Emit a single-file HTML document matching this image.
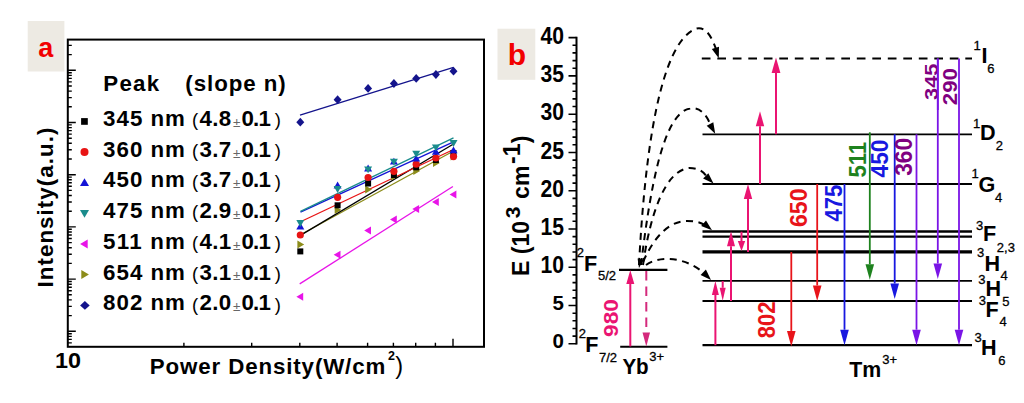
<!DOCTYPE html>
<html><head><meta charset="utf-8"><style>
html,body{margin:0;padding:0;background:#fff;}
svg{display:block;font-family:"Liberation Sans",sans-serif;}
</style></head><body>
<svg width="1024" height="403" viewBox="0 0 1024 403">
<rect width="1024" height="403" fill="#fff"/>
<rect x="27.7" y="21" width="36.7" height="50.5" fill="#edeae3"/>
<text x="45.8" y="57" font-size="27" font-weight="bold" fill="#f20000" text-anchor="middle">a</text>
<rect x="67.8" y="39.6" width="416.2" height="307.2" fill="none" stroke="#000" stroke-width="2"/>
<path d="M67.8,70.3h8 M67.8,54.6h4 M67.8,45.4h4 M67.8,122.5h8 M67.8,106.8h4 M67.8,97.6h4 M67.8,91.1h4 M67.8,86.0h4 M67.8,81.9h4 M67.8,78.4h4 M67.8,75.4h4 M67.8,72.7h4 M67.8,174.7h8 M67.8,159.0h4 M67.8,149.8h4 M67.8,143.3h4 M67.8,138.2h4 M67.8,134.1h4 M67.8,130.6h4 M67.8,127.6h4 M67.8,124.9h4 M67.8,226.9h8 M67.8,211.2h4 M67.8,202.0h4 M67.8,195.5h4 M67.8,190.4h4 M67.8,186.3h4 M67.8,182.8h4 M67.8,179.8h4 M67.8,177.1h4 M67.8,279.1h8 M67.8,263.4h4 M67.8,254.2h4 M67.8,247.7h4 M67.8,242.6h4 M67.8,238.5h4 M67.8,235.0h4 M67.8,232.0h4 M67.8,229.3h4 M67.8,331.3h8 M67.8,315.6h4 M67.8,306.4h4 M67.8,299.9h4 M67.8,294.8h4 M67.8,290.7h4 M67.8,287.2h4 M67.8,284.2h4 M67.8,281.5h4 M67.8,342.9h4 M67.8,339.4h4 M67.8,336.4h4 M67.8,333.7h4" stroke="#000" stroke-width="1.4" fill="none"/>
<path d="M183.9,346.8v-4 M251.7,346.8v-4 M299.8,346.8v-4 M337.1,346.8v-4 M367.6,346.8v-4 M393.4,346.8v-4 M415.7,346.8v-4 M435.4,346.8v-4 M453.0,346.8v-8" stroke="#000" stroke-width="1.4" fill="none"/>
<text x="55" y="368.3" font-size="21.5" font-weight="bold" textLength="26" lengthAdjust="spacingAndGlyphs">10</text>
<text x="149.8" y="373.8" font-size="22.3" font-weight="bold" textLength="235.5">Power Density(W/cm</text>
<text x="388" y="360.3" font-size="12.5" font-weight="bold">2</text>
<text x="395.3" y="373.8" font-size="23.5">)</text>
<text transform="translate(52.8,287.5) rotate(-90)" x="0" y="0" font-size="22.3" font-weight="bold" textLength="160">Intensity(a.u.)</text>
<text x="103.3" y="91" font-size="22.3" font-weight="bold" textLength="55.8">Peak</text>
<text x="185.3" y="91" font-size="22.3" font-weight="bold" textLength="100.5">(slope n)</text>
<text x="103.1" y="126.0" font-size="22.3" font-weight="bold" textLength="81.8">345 nm</text>
<text x="192.1" y="126.3" font-size="18.5">(</text>
<text x="199.6" y="126.0" font-size="22.3" font-weight="bold" textLength="31.5">4.8</text>
<text x="233.1" y="126.8" font-size="13.5" fill="#666">±</text>
<text x="241.4" y="126.0" font-size="22.3" font-weight="bold" textLength="29.6">0.1</text>
<text x="274.8" y="126.3" font-size="18.5">)</text>
<text x="103.1" y="156.7" font-size="22.3" font-weight="bold" textLength="81.8">360 nm</text>
<text x="192.1" y="157.0" font-size="18.5">(</text>
<text x="199.6" y="156.7" font-size="22.3" font-weight="bold" textLength="31.5">3.7</text>
<text x="233.1" y="157.5" font-size="13.5" fill="#666">±</text>
<text x="241.4" y="156.7" font-size="22.3" font-weight="bold" textLength="29.6">0.1</text>
<text x="274.8" y="157.0" font-size="18.5">)</text>
<text x="103.1" y="187.4" font-size="22.3" font-weight="bold" textLength="81.8">450 nm</text>
<text x="192.1" y="187.7" font-size="18.5">(</text>
<text x="199.6" y="187.4" font-size="22.3" font-weight="bold" textLength="31.5">3.7</text>
<text x="233.1" y="188.2" font-size="13.5" fill="#666">±</text>
<text x="241.4" y="187.4" font-size="22.3" font-weight="bold" textLength="29.6">0.1</text>
<text x="274.8" y="187.7" font-size="18.5">)</text>
<text x="103.1" y="218.1" font-size="22.3" font-weight="bold" textLength="81.8">475 nm</text>
<text x="192.1" y="218.4" font-size="18.5">(</text>
<text x="199.6" y="218.1" font-size="22.3" font-weight="bold" textLength="31.5">2.9</text>
<text x="233.1" y="218.9" font-size="13.5" fill="#666">±</text>
<text x="241.4" y="218.1" font-size="22.3" font-weight="bold" textLength="29.6">0.1</text>
<text x="274.8" y="218.4" font-size="18.5">)</text>
<text x="103.1" y="248.8" font-size="22.3" font-weight="bold" textLength="81.8">511 nm</text>
<text x="192.1" y="249.1" font-size="18.5">(</text>
<text x="199.6" y="248.8" font-size="22.3" font-weight="bold" textLength="31.5">4.1</text>
<text x="233.1" y="249.6" font-size="13.5" fill="#666">±</text>
<text x="241.4" y="248.8" font-size="22.3" font-weight="bold" textLength="29.6">0.1</text>
<text x="274.8" y="249.1" font-size="18.5">)</text>
<text x="103.1" y="279.5" font-size="22.3" font-weight="bold" textLength="81.8">654 nm</text>
<text x="192.1" y="279.8" font-size="18.5">(</text>
<text x="199.6" y="279.5" font-size="22.3" font-weight="bold" textLength="31.5">3.1</text>
<text x="233.1" y="280.3" font-size="13.5" fill="#666">±</text>
<text x="241.4" y="279.5" font-size="22.3" font-weight="bold" textLength="29.6">0.1</text>
<text x="274.8" y="279.8" font-size="18.5">)</text>
<text x="103.1" y="310.2" font-size="22.3" font-weight="bold" textLength="81.8">802 nm</text>
<text x="192.1" y="310.5" font-size="18.5">(</text>
<text x="199.6" y="310.2" font-size="22.3" font-weight="bold" textLength="31.5">2.0</text>
<text x="233.1" y="311.0" font-size="13.5" fill="#666">±</text>
<text x="241.4" y="310.2" font-size="22.3" font-weight="bold" textLength="29.6">0.1</text>
<text x="274.8" y="310.5" font-size="18.5">)</text>
<rect x="81.1" y="118.1" width="6.7" height="6.7" fill="#000"/>
<circle cx="84.5" cy="152.1" r="4.0" fill="#e81414"/>
<path d="M84.5,178.3L89.0,185.9L80.0,185.9Z" fill="#1414d6"/>
<path d="M84.5,217.7L89.0,210.1L80.0,210.1Z" fill="#1a8c8c"/>
<path d="M80.1,243.9L87.7,239.4L87.7,248.4Z" fill="#e814e8"/>
<path d="M88.9,274.5L81.3,270.0L81.3,279.0Z" fill="#8c8c1a"/>
<path d="M84.9,301.1L89.7,305.4L84.9,309.7L80.1,305.4Z" fill="#14148c"/>
<line x1="300" y1="235" x2="453.5" y2="151" stroke="#8c8c1a" stroke-width="1.3"/>
<line x1="300" y1="235.6" x2="453.5" y2="144" stroke="#000" stroke-width="1.3"/>
<line x1="300" y1="222" x2="453.5" y2="149.5" stroke="#e81414" stroke-width="1.3"/>
<line x1="300.5" y1="212.2" x2="453.5" y2="141.8" stroke="#1414d6" stroke-width="1.3"/>
<line x1="300.5" y1="211.3" x2="453.5" y2="137.8" stroke="#1a8c8c" stroke-width="1.3"/>
<line x1="299.7" y1="283.9" x2="452.9" y2="186.5" stroke="#e814e8" stroke-width="1.3"/>
<line x1="300" y1="115.2" x2="453.5" y2="67.3" stroke="#14148c" stroke-width="1.3"/>
<path d="M304.2,244.4L297.4,240.4L297.4,248.4Z" fill="#8c8c1a"/>
<path d="M341.5,210.0L334.7,206.0L334.7,214.0Z" fill="#8c8c1a"/>
<path d="M372.0,189.4L365.2,185.4L365.2,193.4Z" fill="#8c8c1a"/>
<path d="M397.8,176.5L391.0,172.5L391.0,180.5Z" fill="#8c8c1a"/>
<path d="M420.1,171.0L413.3,167.0L413.3,175.0Z" fill="#8c8c1a"/>
<path d="M439.8,163.0L433.0,159.0L433.0,167.0Z" fill="#8c8c1a"/>
<path d="M457.4,156.6L450.6,152.6L450.6,160.6Z" fill="#8c8c1a"/>
<rect x="297.3" y="248.4" width="6.0" height="6.0" fill="#000"/>
<rect x="334.6" y="202.3" width="6.0" height="6.0" fill="#000"/>
<rect x="365.1" y="180.5" width="6.0" height="6.0" fill="#000"/>
<rect x="390.9" y="172.0" width="6.0" height="6.0" fill="#000"/>
<rect x="413.2" y="164.3" width="6.0" height="6.0" fill="#000"/>
<rect x="432.9" y="157.0" width="6.0" height="6.0" fill="#000"/>
<rect x="450.5" y="150.0" width="6.0" height="6.0" fill="#000"/>
<circle cx="300.3" cy="235.0" r="3.6" fill="#e81414"/>
<circle cx="337.6" cy="197.3" r="3.6" fill="#e81414"/>
<circle cx="368.1" cy="177.5" r="3.6" fill="#e81414"/>
<circle cx="393.9" cy="171.3" r="3.6" fill="#e81414"/>
<circle cx="416.2" cy="164.2" r="3.6" fill="#e81414"/>
<circle cx="435.9" cy="158.0" r="3.6" fill="#e81414"/>
<circle cx="453.5" cy="156.6" r="3.6" fill="#e81414"/>
<path d="M300.3,222.6L304.3,229.4L296.3,229.4Z" fill="#1414d6"/>
<path d="M337.6,181.6L341.6,188.4L333.6,188.4Z" fill="#1414d6"/>
<path d="M368.1,164.6L372.1,171.4L364.1,171.4Z" fill="#1414d6"/>
<path d="M393.9,157.7L397.9,164.5L389.9,164.5Z" fill="#1414d6"/>
<path d="M416.2,154.7L420.2,161.5L412.2,161.5Z" fill="#1414d6"/>
<path d="M435.9,147.9L439.9,154.7L431.9,154.7Z" fill="#1414d6"/>
<path d="M453.5,146.5L457.5,153.3L449.5,153.3Z" fill="#1414d6"/>
<path d="M300.3,226.9L304.3,220.1L296.3,220.1Z" fill="#1a8c8c"/>
<path d="M337.6,192.9L341.6,186.1L333.6,186.1Z" fill="#1a8c8c"/>
<path d="M368.1,173.2L372.1,166.4L364.1,166.4Z" fill="#1a8c8c"/>
<path d="M393.9,165.5L397.9,158.7L389.9,158.7Z" fill="#1a8c8c"/>
<path d="M416.2,157.5L420.2,150.7L412.2,150.7Z" fill="#1a8c8c"/>
<path d="M435.9,151.3L439.9,144.5L431.9,144.5Z" fill="#1a8c8c"/>
<path d="M453.5,146.9L457.5,140.1L449.5,140.1Z" fill="#1a8c8c"/>
<path d="M296.4,296.8L303.2,292.8L303.2,300.8Z" fill="#e814e8"/>
<path d="M333.7,254.8L340.5,250.8L340.5,258.8Z" fill="#e814e8"/>
<path d="M364.2,230.6L371.0,226.6L371.0,234.6Z" fill="#e814e8"/>
<path d="M390.0,219.4L396.8,215.4L396.8,223.4Z" fill="#e814e8"/>
<path d="M412.3,209.0L419.1,205.0L419.1,213.0Z" fill="#e814e8"/>
<path d="M432.0,201.9L438.8,197.9L438.8,205.9Z" fill="#e814e8"/>
<path d="M449.6,194.5L456.4,190.5L456.4,198.5Z" fill="#e814e8"/>
<path d="M300.3,117.8L304.3,122.2L300.3,126.6L296.3,122.2Z" fill="#14148c"/>
<path d="M337.6,95.3L341.6,99.7L337.6,104.1L333.6,99.7Z" fill="#14148c"/>
<path d="M368.1,84.0L372.1,88.4L368.1,92.8L364.1,88.4Z" fill="#14148c"/>
<path d="M393.9,79.1L397.9,83.5L393.9,87.9L389.9,83.5Z" fill="#14148c"/>
<path d="M416.2,74.0L420.2,78.4L416.2,82.8L412.2,78.4Z" fill="#14148c"/>
<path d="M435.9,70.1L439.9,74.5L435.9,78.9L431.9,74.5Z" fill="#14148c"/>
<path d="M453.5,66.8L457.5,71.2L453.5,75.6L449.5,71.2Z" fill="#14148c"/>
<rect x="497.5" y="28.7" width="37.8" height="51.1" fill="#edeae3"/>
<text x="516.9" y="65.3" font-size="30" font-weight="bold" fill="#f20000" text-anchor="middle">b</text>
<line x1="576.5" y1="36.8" x2="576.5" y2="344.6" stroke="#000" stroke-width="2"/>
<path d="M576.5,343.8h-8 M576.5,336.1h-4 M576.5,328.5h-4 M576.5,320.8h-4 M576.5,313.2h-4 M576.5,305.5h-8 M576.5,297.9h-4 M576.5,290.2h-4 M576.5,282.6h-4 M576.5,274.9h-4 M576.5,267.3h-8 M576.5,259.6h-4 M576.5,252.0h-4 M576.5,244.3h-4 M576.5,236.6h-4 M576.5,229.0h-8 M576.5,221.3h-4 M576.5,213.7h-4 M576.5,206.0h-4 M576.5,198.4h-4 M576.5,190.7h-8 M576.5,183.1h-4 M576.5,175.4h-4 M576.5,167.8h-4 M576.5,160.1h-4 M576.5,152.5h-8 M576.5,144.8h-4 M576.5,137.1h-4 M576.5,129.5h-4 M576.5,121.8h-4 M576.5,114.2h-8 M576.5,106.5h-4 M576.5,98.9h-4 M576.5,91.2h-4 M576.5,83.6h-4 M576.5,75.9h-8 M576.5,68.3h-4 M576.5,60.6h-4 M576.5,52.9h-4 M576.5,45.3h-4 M576.5,37.6h-8" stroke="#000" stroke-width="1.6" fill="none"/>
<text x="563.8" y="348.4" font-size="20.5" font-weight="bold" text-anchor="end">0</text>
<text x="563.8" y="310.1" font-size="20.5" font-weight="bold" text-anchor="end">5</text>
<text x="564" y="273.4" font-size="23" font-weight="bold" text-anchor="end" textLength="23.5" lengthAdjust="spacingAndGlyphs">10</text>
<text x="564" y="235.1" font-size="23" font-weight="bold" text-anchor="end" textLength="23.5" lengthAdjust="spacingAndGlyphs">15</text>
<text x="564" y="196.8" font-size="23" font-weight="bold" text-anchor="end" textLength="23.5" lengthAdjust="spacingAndGlyphs">20</text>
<text x="564" y="158.6" font-size="23" font-weight="bold" text-anchor="end" textLength="23.5" lengthAdjust="spacingAndGlyphs">25</text>
<text x="564" y="120.3" font-size="23" font-weight="bold" text-anchor="end" textLength="23.5" lengthAdjust="spacingAndGlyphs">30</text>
<text x="564" y="82.0" font-size="23" font-weight="bold" text-anchor="end" textLength="23.5" lengthAdjust="spacingAndGlyphs">35</text>
<text x="564" y="43.7" font-size="23" font-weight="bold" text-anchor="end" textLength="23.5" lengthAdjust="spacingAndGlyphs">40</text>
<g transform="translate(528.7,0) rotate(-90)" font-weight="bold" font-size="23"><text x="-275.9" y="0">E (10</text><text x="-218.3" y="-8.3" font-size="21">3</text><text x="-198.9" y="0">cm</text><text x="-163.9" y="-8.3">-1</text><text x="-143.3" y="0">)</text></g>
<line x1="702.5" y1="134.4" x2="972" y2="134.4" stroke="#000" stroke-width="1.8"/>
<line x1="702.5" y1="184" x2="972" y2="184" stroke="#000" stroke-width="1.9"/>
<line x1="702.5" y1="231.5" x2="972" y2="231.5" stroke="#000" stroke-width="2.3"/>
<line x1="702.5" y1="236.6" x2="972" y2="236.6" stroke="#000" stroke-width="2.3"/>
<line x1="702.5" y1="251.8" x2="972" y2="251.8" stroke="#000" stroke-width="3.2"/>
<line x1="702.5" y1="280.9" x2="972" y2="280.9" stroke="#000" stroke-width="1.8"/>
<line x1="702.5" y1="301" x2="972" y2="301" stroke="#000" stroke-width="1.8"/>
<line x1="702.5" y1="345.1" x2="972" y2="345.1" stroke="#000" stroke-width="2.4"/>
<line x1="701.8" y1="58.5" x2="972" y2="58.5" stroke="#000" stroke-width="2" stroke-dasharray="8.7 6.8"/>
<line x1="619" y1="269.9" x2="667.4" y2="269.9" stroke="#000" stroke-width="2.1"/>
<line x1="620.2" y1="346.7" x2="667.4" y2="346.7" stroke="#000" stroke-width="1.9"/>
<line x1="630.3" y1="346.4" x2="630.3" y2="284.0" stroke="#ea1472" stroke-width="2"/><path d="M630.3,270L634.3,284.0L626.3,284.0Z" fill="#ea1472"/>
<line x1="646.3" y1="271" x2="646.3" y2="332.4" stroke="#d42a7c" stroke-width="2" stroke-dasharray="9.5 6"/><path d="M646.3,346.4L650.0,332.4L642.5,332.4Z" fill="#d42a7c"/>
<line x1="715.4" y1="345.2" x2="715.4" y2="294.9" stroke="#ea1472" stroke-width="2"/><path d="M715.4,280.9L718.9,294.9L711.9,294.9Z" fill="#ea1472"/>
<line x1="722.7" y1="281" x2="722.7" y2="287.8" stroke="#ea1472" stroke-width="2"/><path d="M722.7,300.8L725.7,287.8L719.7,287.8Z" fill="#ea1472"/>
<line x1="731" y1="301" x2="731" y2="246.2" stroke="#ea1472" stroke-width="2"/><path d="M731,231.2L735.0,246.2L727.0,246.2Z" fill="#ea1472"/>
<line x1="741.5" y1="231.7" x2="741.5" y2="241.0" stroke="#ea1472" stroke-width="2"/><path d="M741.5,251L745.2,241.0L737.8,241.0Z" fill="#ea1472"/>
<line x1="748" y1="252" x2="748" y2="199.0" stroke="#ea1472" stroke-width="2"/><path d="M748,184L752.2,199.0L743.8,199.0Z" fill="#ea1472"/>
<line x1="760" y1="184" x2="760" y2="126.2" stroke="#ea1472" stroke-width="2"/><path d="M760,111.2L764.2,126.2L755.8,126.2Z" fill="#ea1472"/>
<line x1="776" y1="134.3" x2="776" y2="72.9" stroke="#ea1472" stroke-width="2"/><path d="M776,57.4L780.4,72.9L771.6,72.9Z" fill="#ea1472"/>
<line x1="791.3" y1="252" x2="791.3" y2="330.9" stroke="#e8141a" stroke-width="1.8"/><path d="M791.3,346.4L795.6,330.9L787.0,330.9Z" fill="#e8141a"/>
<line x1="817.2" y1="184" x2="817.2" y2="285.4" stroke="#e8141a" stroke-width="1.8"/><path d="M817.2,300.9L821.5,285.4L812.9,285.4Z" fill="#e8141a"/>
<line x1="844.5" y1="184" x2="844.5" y2="329.7" stroke="#1818e0" stroke-width="1.8"/><path d="M844.5,345.2L848.8,329.7L840.2,329.7Z" fill="#1818e0"/>
<line x1="869.8" y1="132.3" x2="869.8" y2="264.2" stroke="#1e821e" stroke-width="1.8"/><path d="M869.8,279.7L874.1,264.2L865.5,264.2Z" fill="#1e821e"/>
<line x1="894.7" y1="134.3" x2="894.7" y2="283.5" stroke="#1818e0" stroke-width="1.8"/><path d="M894.7,299L899.0,283.5L890.4,283.5Z" fill="#1818e0"/>
<line x1="916.5" y1="134.3" x2="916.5" y2="329.7" stroke="#7a14e6" stroke-width="1.8"/><path d="M916.5,345.2L920.8,329.7L912.2,329.7Z" fill="#7a14e6"/>
<line x1="937.8" y1="58.5" x2="937.8" y2="263.5" stroke="#7a14e6" stroke-width="1.8"/><path d="M937.8,279L942.1,263.5L933.5,263.5Z" fill="#7a14e6"/>
<line x1="959" y1="58.5" x2="959" y2="329.7" stroke="#7a14e6" stroke-width="1.8"/><path d="M959,345.2L963.3,329.7L954.7,329.7Z" fill="#7a14e6"/>
<text transform="translate(617.5,336.9) rotate(-90)" font-size="20" font-weight="bold" fill="#ea1472" textLength="37.7" lengthAdjust="spacingAndGlyphs">980</text>
<text transform="translate(775.4,338.3) rotate(-90)" font-size="23" font-weight="bold" fill="#e8141a" textLength="36.8" lengthAdjust="spacingAndGlyphs">802</text>
<text transform="translate(807.4,227.1) rotate(-90)" font-size="23" font-weight="bold" fill="#e8141a" textLength="38.7" lengthAdjust="spacingAndGlyphs">650</text>
<text transform="translate(841.7,221.6) rotate(-90)" font-size="23" font-weight="bold" fill="#1818e0" textLength="36.8" lengthAdjust="spacingAndGlyphs">475</text>
<text transform="translate(866.2,177.5) rotate(-90)" font-size="23" font-weight="bold" fill="#1e821e" textLength="35.6" lengthAdjust="spacingAndGlyphs">511</text>
<text transform="translate(887.8,177.5) rotate(-90)" font-size="23" font-weight="bold" fill="#1818e0" textLength="38" lengthAdjust="spacingAndGlyphs">450</text>
<text transform="translate(912.2,175.8) rotate(-90)" font-size="23" font-weight="bold" fill="#800080" textLength="38" lengthAdjust="spacingAndGlyphs">360</text>
<text transform="translate(937.8,99.9) rotate(-90)" font-size="19" font-weight="bold" fill="#800080" textLength="36.4" lengthAdjust="spacingAndGlyphs">345</text>
<line x1="937.8" y1="58.5" x2="937.8" y2="110" stroke="#7a14e6" stroke-width="1.8"/>
<text transform="translate(956.8,105.3) rotate(-90)" font-size="21" font-weight="bold" fill="#800080" textLength="37.3" lengthAdjust="spacingAndGlyphs">290</text>
<path d="M639,265 C645,150 660,45 695,29 C706,25 712,38 716,49" fill="none" stroke="#000" stroke-width="2" stroke-dasharray="7 5.5"/>
<path d="M641,265 C650,190 663,113 690,108.5 C700,106.5 708,116 711,127" fill="none" stroke="#000" stroke-width="2" stroke-dasharray="7 5.5"/>
<path d="M643,265 C650,215 665,170 689.5,168 C700,168 705,173 708,179" fill="none" stroke="#000" stroke-width="2" stroke-dasharray="7 5.5"/>
<path d="M643,262 C655,235 670,221 687,221 C697,221 702,223 706,226" fill="none" stroke="#000" stroke-width="2" stroke-dasharray="7 5.5"/>
<path d="M646,265 C660,255 685,257 704,273" fill="none" stroke="#000" stroke-width="2" stroke-dasharray="7 5.5"/>
<path d="M718.8,58.3L711.8,49.0L719.0,46.7Z" fill="#000"/>
<path d="M715.2,133.8L706.7,125.8L713.3,122.3Z" fill="#000"/>
<path d="M713.5,183.6L703.1,178.5L708.4,173.2Z" fill="#000"/>
<path d="M712.0,230.3L701.2,226.1L706.0,220.4Z" fill="#000"/>
<path d="M711.0,280.0L700.6,274.9L705.9,269.6Z" fill="#000"/>
<path d="M639.0,268.0L637.6,258.6L643.5,259.7Z" fill="#000"/>
<text x="576.8" y="257" font-size="13" stroke="#000" stroke-width="0.3">2</text><text x="584" y="270.7" font-size="21.6" font-weight="bold">F</text><text x="598" y="279.8" font-size="13" stroke="#000" stroke-width="0.3">5/2</text>
<text x="578.8" y="338.1" font-size="13" stroke="#000" stroke-width="0.3">2</text><text x="585.2" y="352.4" font-size="21.6" font-weight="bold">F</text><text x="599" y="361.5" font-size="13" stroke="#000" stroke-width="0.3">7/2</text>
<text x="622.4" y="374.2" font-size="21.6" font-weight="bold" textLength="26.3" lengthAdjust="spacingAndGlyphs">Yb</text>
<text x="649.2" y="361.3" font-size="13" stroke="#000" stroke-width="0.3">3+</text>
<text x="849.3" y="377.3" font-size="21.6" font-weight="bold" textLength="32" lengthAdjust="spacingAndGlyphs">Tm</text>
<text x="882.2" y="364" font-size="13" stroke="#000" stroke-width="0.3">3+</text>
<text x="973.5" y="50" font-size="13" stroke="#000" stroke-width="0.3">1</text><text x="981.4" y="63.3" font-size="21.6" font-weight="bold">I</text><text x="987.3" y="73" font-size="13" stroke="#000" stroke-width="0.3">6</text>
<text x="973" y="127.5" font-size="13" stroke="#000" stroke-width="0.3">1</text><text x="980.1" y="140.2" font-size="21.6" font-weight="bold">D</text><text x="995.8" y="150" font-size="13" stroke="#000" stroke-width="0.3">2</text>
<text x="971.6" y="178" font-size="13" stroke="#000" stroke-width="0.3">1</text><text x="978.5" y="192" font-size="21.6" font-weight="bold">G</text><text x="995" y="201.5" font-size="13" stroke="#000" stroke-width="0.3">4</text>
<text x="976" y="229.6" font-size="13" stroke="#000" stroke-width="0.3">3</text><text x="983" y="241.1" font-size="21.6" font-weight="bold">F</text><text x="996.8" y="251.5" font-size="13" stroke="#000" stroke-width="0.3">2,3</text>
<text x="977" y="256.8" font-size="13" stroke="#000" stroke-width="0.3">3</text><text x="984.5" y="270.6" font-size="21.6" font-weight="bold">H</text><text x="1000.5" y="279.6" font-size="13" stroke="#000" stroke-width="0.3">4</text>
<text x="978.3" y="283.8" font-size="13" stroke="#000" stroke-width="0.3">3</text><text x="985.5" y="295.8" font-size="21.6" font-weight="bold">H</text><text x="1002.2" y="306.2" font-size="13" stroke="#000" stroke-width="0.3">5</text>
<text x="978.8" y="304.5" font-size="13" stroke="#000" stroke-width="0.3">3</text><text x="985.4" y="316.5" font-size="21.6" font-weight="bold">F</text><text x="999.6" y="326.3" font-size="13" stroke="#000" stroke-width="0.3">4</text>
<text x="974.4" y="341.8" font-size="13" stroke="#000" stroke-width="0.3">3</text><text x="981" y="354.7" font-size="21.6" font-weight="bold">H</text><text x="998.3" y="365" font-size="13" stroke="#000" stroke-width="0.3">6</text>
</svg></body></html>
